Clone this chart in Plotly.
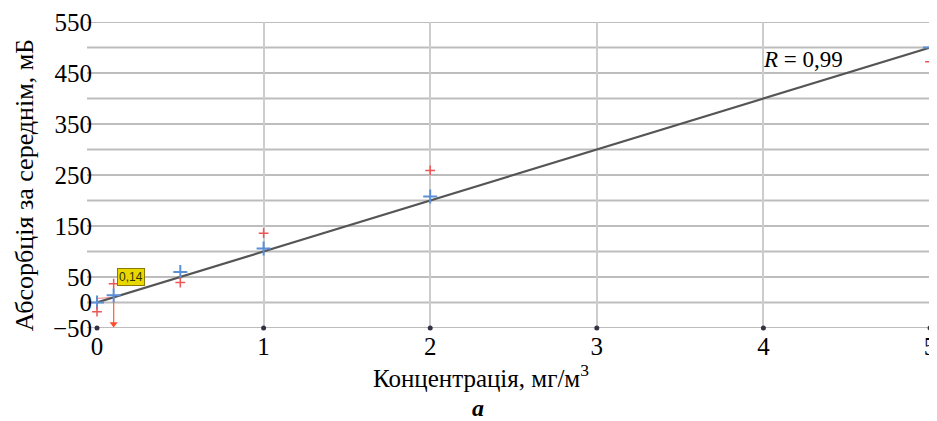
import plotly.graph_objects as go

conc = [0, 0.1, 0.5, 1, 2, 5]
mean_vals = [0, 14, 60, 106, 208, 500]
meas_vals = [-18, 37, 39, 136, 259, 472]
fit_x = [0, 5]
fit_y = [0, 500]
tick_x = [0, 1, 2, 3, 4, 5]
base_y = [-50, -50, -50, -50, -50, -50]
y_ticks = [550, 450, 350, 250, 150, 50, 0, -50]
y_ticktext = ["550", "450", "350", "250", "150", "50", "0", "\u221250"]
arrow_x = [0.1, 0.1]
arrow_y = [12, -42]
bias_x = [0, 0.1]
bias_y = [8, 10]

FONT = "Liberation Serif, Times New Roman, serif"

fig = go.Figure()
fig.add_trace(go.Scatter(x=tick_x, y=base_y, mode="markers",
                         marker=dict(color="#333344", size=5), cliponaxis=False, showlegend=False))
fig.add_trace(go.Scatter(x=bias_x, y=bias_y, mode="lines",
                         line=dict(color="#f08080", width=1), showlegend=False))
fig.add_trace(go.Scatter(x=arrow_x, y=arrow_y, mode="lines",
                         line=dict(color="#ff6a3d", width=1.3), showlegend=False))
fig.add_trace(go.Scatter(x=arrow_x[1:], y=arrow_y[1:], mode="markers",
                         marker=dict(symbol="triangle-down", size=7, color="#ff4a2d"),
                         cliponaxis=False, showlegend=False))
fig.add_trace(go.Scatter(x=fit_x, y=fit_y, mode="lines",
                         line=dict(color="#555555", width=2.2), showlegend=False))
fig.add_trace(go.Scatter(x=conc, y=mean_vals, mode="markers",
                         marker=dict(symbol="cross-thin", size=10, color="#5b8fd6",
                                     line=dict(color="#5b8fd6", width=2)),
                         cliponaxis=False, showlegend=False))
fig.add_trace(go.Scatter(x=conc, y=meas_vals, mode="markers",
                         marker=dict(symbol="cross-thin", size=7, color="#ee5555",
                                     line=dict(color="#ee5555", width=1.5)),
                         cliponaxis=False, showlegend=False))

fig.add_annotation(x=0.12, y=50, xref="x", yref="y", text="0,14", showarrow=False,
                   xanchor="left", bgcolor="#e8d800", bordercolor="#8a7a00", borderwidth=1,
                   borderpad=1, font=dict(family="Arial", size=12, color="#333300"))
fig.add_annotation(x=4.24, y=476, xref="x", yref="y", text="<i>R</i> = 0,99", showarrow=False,
                   xanchor="center", font=dict(family=FONT, size=23, color="black"))

fig.update_layout(
    width=929, height=413,
    margin=dict(l=89, r=7, t=14, b=93),
    paper_bgcolor="white", plot_bgcolor="white",
    font=dict(family=FONT, size=22, color="black"),
    xaxis=dict(range=[0, 5], tickvals=tick_x, showgrid=True, gridcolor="#cccccc", gridwidth=1.5,
               zeroline=False, showline=False, ticks="", tickfont=dict(size=25),
               automargin=False, ticklabeloverflow="allow", ticklabelstandoff=1),
    yaxis=dict(range=[-50, 550], tickvals=y_ticks, ticktext=y_ticktext,
               showgrid=False, zeroline=False, showline=False, ticks="", tickfont=dict(size=25),
               automargin=False, ticklabelstandoff=4),
)
for yv in range(-50, 551, 50):
    fig.add_shape(type="line", xref="paper", yref="y", x0=-0.012, x1=1, y0=yv, y1=yv,
                  line=dict(color="#bdbdbd", width=2), layer="below")

# axis titles as annotations for exact placement
fig.add_annotation(x=-0.0876, y=0.467, xref="paper", yref="paper",
                   text="Абсорбція за середнім, мБ", textangle=-90, showarrow=False,
                   xanchor="center", yanchor="middle", font=dict(family=FONT, size=26))
fig.add_annotation(x=0.461, y=-0.158, xref="paper", yref="paper",
                   text="Концентрація, мг/м<sup>3</sup>", showarrow=False,
                   xanchor="center", yanchor="middle", font=dict(family=FONT, size=25))
fig.add_annotation(x=0.457, y=-0.262, xref="paper", yref="paper", text="<b><i>a</i></b>",
                   showarrow=False, yanchor="middle", font=dict(family=FONT, size=24))

fig.write_html("out.html")
